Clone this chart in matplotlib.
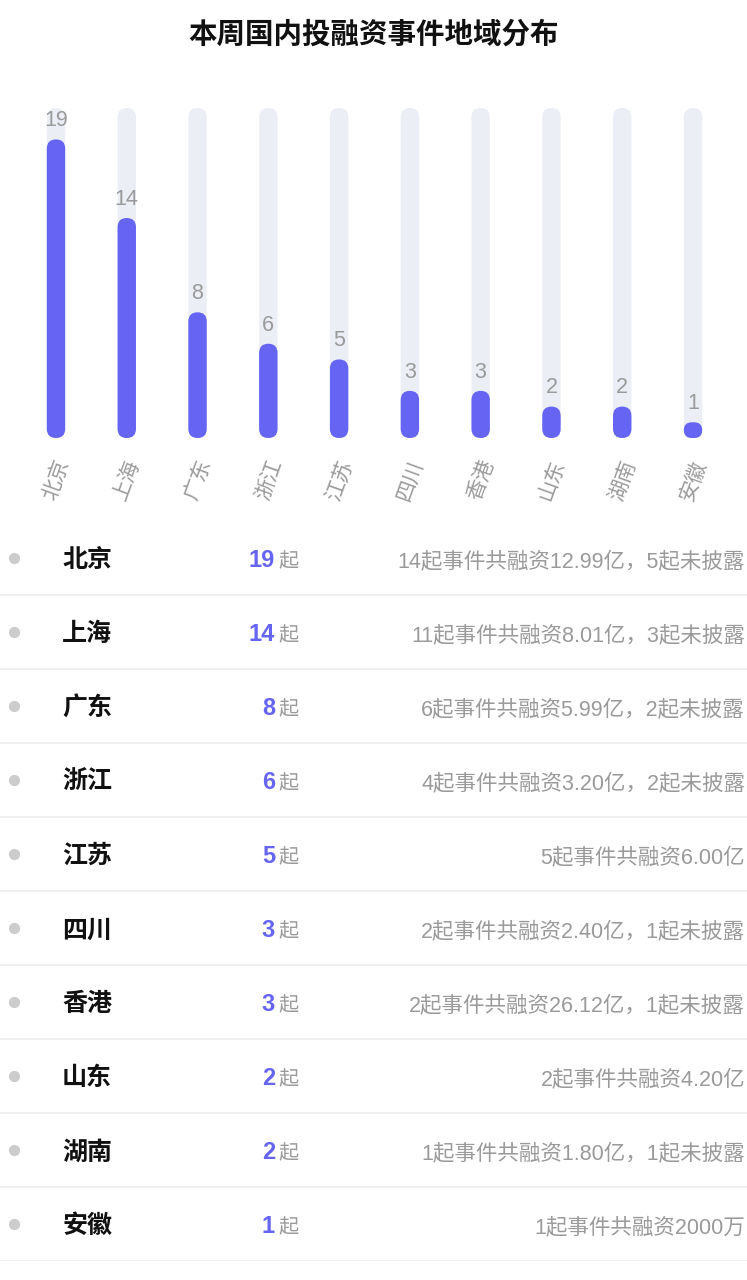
import matplotlib
matplotlib.use("Agg")
import matplotlib.pyplot as plt
from matplotlib.patches import FancyBboxPatch

plt.rcParams['font.family'] = ['Noto Sans CJK SC', 'DejaVu Sans']
mixed = ['Liberation Sans', 'Noto Sans CJK SC']  # latin digits + CJK fallback

# data
regions = ['北京', '上海', '广东', '浙江', '江苏', '四川', '香港', '山东', '湖南', '安徽']
counts = [19, 14, 8, 6, 5, 3, 3, 2, 2, 1]
disclosed = [14, 11, 6, 4, 5, 2, 2, 2, 1, 1]
amounts = ['12.99亿', '8.01亿', '5.99亿', '3.20亿', '6.00亿', '2.40亿', '26.12亿', '4.20亿', '1.80亿', '2000万']
y_max = 21

title = '本周国内投融资事件地域分布'
purple = '#6664f3'
track = '#eceef5'
gray = '#9a9a9a'


def rounded_bars(ax, rects, color, aspect, zorder):
    # swap plain rectangles for pill shaped ones
    for r in rects:
        w, h = r.get_width(), r.get_height()
        rad = min(w / 2, h / aspect / 2)
        p = FancyBboxPatch((r.get_x(), r.get_y()), w, h,
                           boxstyle=f"round,pad=0,rounding_size={rad}",
                           mutation_aspect=aspect, facecolor=color,
                           edgecolor='none', zorder=zorder)
        ax.add_patch(p)
        r.set_visible(False)


fig = plt.figure(figsize=(7.47, 12.8), dpi=100)
fig.text(0.5, 1 - 35 / 1280, title, ha='center', va='center',
         fontsize=20.5, fontweight='bold', color='#111111')

# bar chart
ax = fig.add_axes([20.6 / 747, 1 - 438 / 1280, 707.8 / 747, 330 / 1280])
x = list(range(len(regions)))
ax.set_xlim(-0.5, len(regions) - 0.5)
ax.set_ylim(0, y_max)
ax.set_axis_off()

bar_w = 0.26
px = ax.transData.transform([(0, 0), (1, 1)])
aspect = (px[1, 0] - px[0, 0]) / (px[1, 1] - px[0, 1])

bg = ax.bar(x, [y_max] * len(x), width=bar_w)
rounded_bars(ax, bg, track, aspect, 1)
fg = ax.bar(x, counts, width=bar_w)
rounded_bars(ax, fg, purple, aspect, 2)

for i, v in zip(x, counts):
    ax.annotate(str(v), (i, v), xytext=(0, 9.5), textcoords='offset points',
                ha='center', va='baseline', fontsize=15.5, color=gray,
                family=mixed, zorder=3)

for i, name in zip(x, regions):
    ax.annotate(name, (i, 0), xytext=(0, -13.5), textcoords='offset points',
                ha='center', va='top', rotation=70, fontsize=15, color=gray)

# list below
ax2 = fig.add_axes([0, 1 - 1261 / 1280, 1, 740 / 1280])
ax2.set_xlim(0, 1)
ax2.set_ylim(len(regions) - 0.5, -0.5)
ax2.set_axis_off()

rows = list(range(len(regions)))
ax2.scatter([14 / 747] * len(rows), rows, s=50, color='#cccccc', zorder=3)
for r in rows:
    ax2.axhline(r + 0.5, color='#eeeeee', lw=1.2)

for r, name, c, d, amt in zip(rows, regions, counts, disclosed, amounts):
    ax2.text(62 / 747, r + 0.03, name, ha='left', va='center', fontsize=18,
             fontweight='bold', color='#111111')
    ax2.text(275 / 747, r + 0.12, str(c), ha='right', va='baseline',
             fontsize=17, fontweight='bold', color=purple, family=mixed)
    ax2.text(278 / 747, r + 0.12, '起', ha='left', va='baseline',
             fontsize=14.5, color=gray)
    detail = f'{d}起事件共融资{amt}'
    if c - d > 0:
        detail += f'，{c - d}起未披露'
    ax2.text(745 / 747, r + 0.12, detail, ha='right', va='baseline',
             fontsize=15.5, color=gray, family=mixed)

fig.savefig('out.png', dpi=100)
